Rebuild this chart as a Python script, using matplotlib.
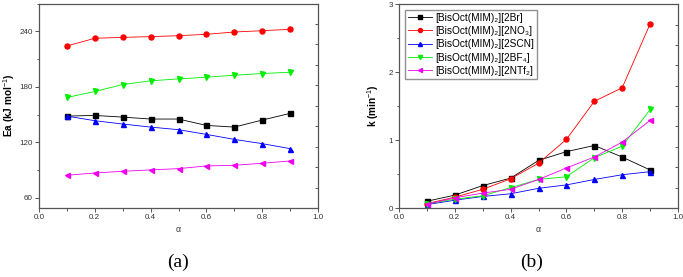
import matplotlib
matplotlib.use('Agg')
import matplotlib.pyplot as plt
from matplotlib.ticker import MultipleLocator

plt.rcParams['font.family'] = ['Liberation Sans', 'DejaVu Sans']
plt.rcParams['mathtext.fontset'] = 'custom'
plt.rcParams['mathtext.rm'] = 'Liberation Sans'
plt.rcParams['mathtext.bf'] = 'Liberation Sans:bold'

alpha = [0.1, 0.2, 0.3, 0.4, 0.5, 0.6, 0.7, 0.8, 0.9]

labels = ['[BisOct(MIM)₂][2Br]', '[BisOct(MIM)₂][2NO₃]',
          '[BisOct(MIM)₂][2SCN]', '[BisOct(MIM)₂][2BF₄]',
          '[BisOct(MIM)₂][2NTf₂]']
colors = ['black', 'red', 'blue', '#00ee00', '#ee00ee']
markers = ['s', 'o', '^', 'v', '<']

# (a) activation energy
ea_br = [148.4, 149.1, 147.3, 145.2, 145.2, 138.3, 136.5, 144.1, 151.3]
ea_no3 = [224.2, 232.5, 233.5, 234.3, 235.3, 236.8, 239.3, 240.7, 242.2]
ea_scn = [148.4, 143.4, 139.8, 136.5, 133.7, 128.6, 123.2, 118.6, 113.2]
ea_bf4 = [168.5, 175.0, 182.5, 186.5, 188.6, 190.4, 192.6, 194.4, 195.8]
ea_ntf2 = [84.4, 86.9, 88.7, 90.2, 91.6, 94.5, 95.2, 97.4, 99.9]

# (b) rate constant
k_br = [0.10, 0.19, 0.33, 0.44, 0.70, 0.83, 0.92, 0.75, 0.56]
k_no3 = [0.065, 0.16, 0.275, 0.43, 0.66, 1.01, 1.57, 1.77, 2.71]
k_scn = [0.05, 0.115, 0.17, 0.21, 0.29, 0.34, 0.42, 0.49, 0.535]
k_bf4 = [0.06, 0.13, 0.18, 0.30, 0.42, 0.46, 0.74, 0.91, 1.45]
k_ntf2 = [0.055, 0.15, 0.22, 0.275, 0.42, 0.59, 0.75, 0.97, 1.29]

ea_series = [ea_br, ea_no3, ea_scn, ea_bf4, ea_ntf2]
k_series = [k_br, k_no3, k_scn, k_bf4, k_ntf2]

fig = plt.figure(figsize=(6.83, 2.77), dpi=100)
ax1 = fig.add_axes([0.0571, 0.249, 0.4085, 0.738])
ax2 = fig.add_axes([0.5842, 0.249, 0.4085, 0.736])

spine_col = '#555555'


def style(ax, ylim, major, minor):
    ax.set_xlim(0, 1)
    ax.set_ylim(*ylim)
    ax.xaxis.set_major_locator(MultipleLocator(0.2))
    ax.xaxis.set_minor_locator(MultipleLocator(0.1))
    ax.yaxis.set_major_locator(MultipleLocator(major))
    ax.yaxis.set_minor_locator(MultipleLocator(minor))
    ax.tick_params(which='both', direction='out', colors=spine_col,
                   labelcolor='#333333', labelsize=5.8, width=0.7)
    ax.tick_params(which='major', length=3, pad=1.5)
    ax.tick_params(which='minor', length=1.8)
    for s in ax.spines.values():
        s.set_color(spine_col)
        s.set_linewidth(0.9)
    # right axis: ten inward ticks, no labels
    tw = ax.twinx()
    tw.set_ylim(0, 1)
    tw.set_yticks([0.1 * i for i in range(1, 10)])
    tw.tick_params(axis='y', direction='in', length=2.5, width=0.7,
                   colors=spine_col, labelright=False)
    for s in tw.spines.values():
        s.set_visible(False)
    ax.set_xlabel('α', fontsize=6.2, labelpad=3, color='#333333')


for ys, c, m, lab in zip(ea_series, colors, markers, labels):
    ax1.plot(alpha, ys, color=c, marker=m, markersize=3.6, linewidth=0.6,
             label=lab)
style(ax1, (49, 270), 60, 30)
ax1.set_ylabel(r'Ea (kJ mol$^{-1}$)', fontsize=7.2, fontweight='bold',
               labelpad=2)

for ys, c, m, lab in zip(k_series, colors, markers, labels):
    ax2.plot(alpha, ys, color=c, marker=m, markersize=3.6, linewidth=0.6,
             label=lab)
style(ax2, (0, 3), 1, 0.5)
ax2.set_ylabel(r'k (min$^{-1}$)', fontsize=7.2, fontweight='bold',
               labelpad=5)
ax2.legend(loc='upper left', fontsize=7.3, frameon=True, fancybox=False,
           edgecolor='#777777', handlelength=2.4, handletextpad=0.3,
           borderpad=0.3, labelspacing=0.32, borderaxespad=0.55,
           markerscale=0.8)

fig.text(0.261, 0.054, '(a)', ha='center', va='center', fontsize=14,
         family='Liberation Serif')
fig.text(0.778, 0.054, '(b)', ha='center', va='center', fontsize=14,
         family='Liberation Serif')

fig.savefig('out.png', dpi=100)
